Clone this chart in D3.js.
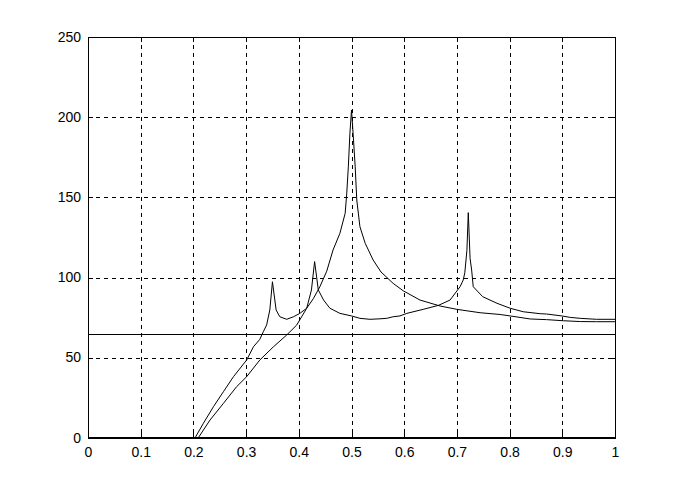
<!DOCTYPE html>
<html><head><meta charset="utf-8">
<script src="https://cdn.jsdelivr.net/npm/d3@7"></script>
<style>
html,body{margin:0;padding:0;background:#fff;}
svg{display:block;}
text{font-family:"Liberation Sans",Arial,sans-serif;font-size:14px;fill:#000;}
</style></head><body>
<svg id="chart" width="677" height="492"></svg>
<script>
// data
const xTicks = [0,0.1,0.2,0.3,0.4,0.5,0.6,0.7,0.8,0.9,1];
const xTickLabels = ["0","0.1","0.2","0.3","0.4","0.5","0.6","0.7","0.8","0.9","1"];
const yTicks = [0,50,100,150,200,250];
const yTickLabels = ["0","50","100","150","200","250"];

const seriesAx = [0,0.203,0.219,0.238,0.257,0.276,0.301,0.314,0.326,0.333,0.339,0.345,0.350,0.357,0.364,0.377,0.390,0.402,0.415,0.428,0.440,0.453,0.465,0.478,0.488,0.491,0.494,0.497,0.500,0.503,0.507,0.510,0.516,0.526,0.541,0.556,0.579,0.598,0.630,0.668,0.700,0.744,0.782,0.801,0.839,0.870,0.902,0.934,0.965,1.0];
const seriesAy = [0,0,9.2,19.5,28.9,38.2,48.6,56.9,61.5,66.5,70.5,79.8,97.4,79.8,75.6,74.0,75.6,77.7,80.9,87.1,94.3,104,117.2,127.6,140.1,152.6,169.1,190,204.5,190,169.1,148.4,131.7,121.4,111,103.5,96.4,91.8,86.0,82.3,80.2,78.1,77.0,76.1,74.2,73.8,73.1,72.6,72.5,72.5];

const seriesBx = [0,0.209,0.2315,0.257,0.282,0.301,0.326,0.352,0.377,0.396,0.415,0.424,0.430,0.437,0.447,0.459,0.478,0.500,0.516,0.535,0.554,0.567,0.579,0.592,0.605,0.636,0.665,0.687,0.706,0.712,0.715,0.719,0.7216,0.725,0.728,0.731,0.749,0.776,0.801,0.826,0.858,0.870,0.899,0.915,0.934,0.965,1.0];
const seriesBy = [0,0,11.2,21.6,32.0,38.2,48.6,56.9,64.2,70.4,80.9,92.3,110,92.3,86.0,80.9,77.7,76.1,74.6,74.0,74.3,74.6,75.6,76.1,77.7,80.2,82.7,86.0,94.3,98.5,103,117,140.5,112,104.7,94.3,88.1,84.0,80.9,78.7,77.5,77.3,76.1,75.2,74.6,74.0,74.0];

const levelX = [0,1];
const levelY = [64.6,64.6];

const svg = d3.select("#chart");
const L = 88, R = 615, T = 37, B = 438;
const x = d3.scaleLinear().domain([0,1]).range([L,R]);
const y = d3.scaleLinear().domain([0,250]).range([B,T]);

// grid
const g = svg.append("g").attr("shape-rendering","crispEdges");
g.selectAll(".vg").data(xTicks.slice(1,-1)).enter().append("line")
  .attr("x1",d=>Math.round(x(d))+0.5).attr("x2",d=>Math.round(x(d))+0.5)
  .attr("y1",T).attr("y2",B)
  .attr("stroke","#000").attr("stroke-width",1).attr("stroke-dasharray","4,4");
g.selectAll(".hg").data(yTicks.slice(1,-1)).enter().append("line")
  .attr("y1",d=>Math.round(y(d))+0.5).attr("y2",d=>Math.round(y(d))+0.5)
  .attr("x1",L).attr("x2",R)
  .attr("stroke","#000").attr("stroke-width",1).attr("stroke-dasharray","4,4");

// axes via d3
const xAxis = d3.axisBottom(x).tickValues(xTicks).tickFormat((d,i)=>xTickLabels[i]).tickSize(0).tickPadding(9);
const yAxis = d3.axisLeft(y).tickValues(yTicks).tickFormat((d,i)=>yTickLabels[i]).tickSize(0).tickPadding(7);
const gx = svg.append("g").attr("transform",`translate(0,${B})`).call(xAxis);
const gy = svg.append("g").attr("transform",`translate(${L},0)`).call(yAxis);
[gx,gy].forEach(a=>{a.select(".domain").remove(); a.selectAll("text").attr("font-size",14).attr("font-family","Liberation Sans, Arial, sans-serif");});
gx.selectAll("text").attr("dy",null).attr("y",19);
gy.selectAll("text").attr("dy",null).attr("y",4);

// inward ticks on all sides
const tk = svg.append("g").attr("shape-rendering","crispEdges").attr("stroke","#000");
xTicks.forEach(d=>{
  const px = Math.round(x(d))+0.5;
  tk.append("line").attr("x1",px).attr("x2",px).attr("y1",B).attr("y2",B-5);
  tk.append("line").attr("x1",px).attr("x2",px).attr("y1",T).attr("y2",T+5);
});
yTicks.forEach(d=>{
  const py = Math.round(y(d))+0.5;
  tk.append("line").attr("y1",py).attr("y2",py).attr("x1",L).attr("x2",L+5);
  tk.append("line").attr("y1",py).attr("y2",py).attr("x1",R).attr("x2",R-5);
});

// frame
const fr = svg.append("g").attr("shape-rendering","crispEdges");
fr.append("line").attr("x1",L+0.5).attr("x2",L+0.5).attr("y1",T).attr("y2",B+1).attr("stroke","#000");
fr.append("line").attr("x1",R+0.5).attr("x2",R+0.5).attr("y1",T).attr("y2",B+1).attr("stroke","#000");
fr.append("line").attr("x1",L).attr("x2",R+1).attr("y1",T+0.5).attr("y2",T+0.5).attr("stroke","#000");
fr.append("rect").attr("x",L).attr("y",B-1).attr("width",R-L+1).attr("height",2).attr("fill","#000");

// series
const line = d3.line().x(d=>x(d[0])).y(d=>y(d[1])).curve(d3.curveLinear);
const sA = seriesAx.map((v,i)=>[v,seriesAy[i]]);
const sB = seriesBx.map((v,i)=>[v,seriesBy[i]]);
const sL = levelX.map((v,i)=>[v,levelY[i]]);
svg.append("path").datum(sL).attr("d",line).attr("fill","none").attr("stroke","#000").attr("stroke-width",1).attr("shape-rendering","crispEdges");
[sA,sB].forEach(s=>{
  svg.append("path").datum(s).attr("d",line).attr("fill","none").attr("stroke","#000").attr("stroke-width",1);
});
</script>
</body></html>
